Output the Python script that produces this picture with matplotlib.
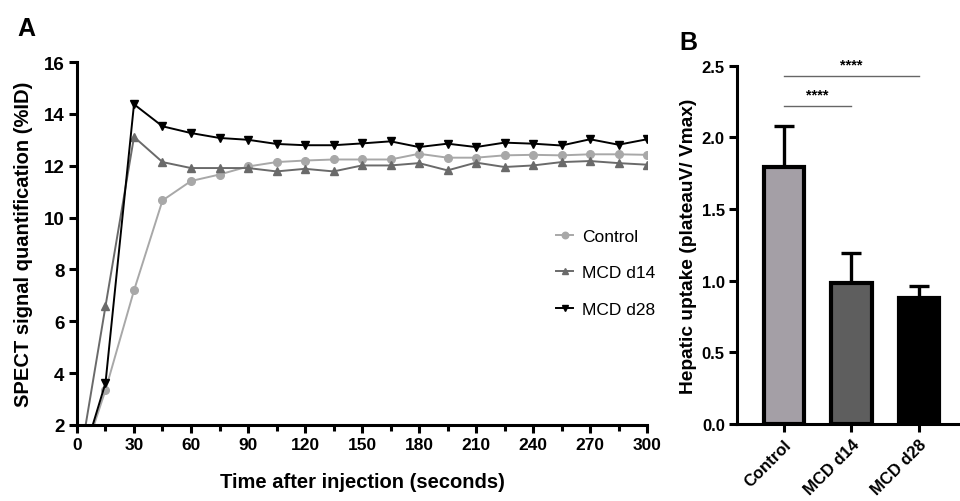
import numpy as np
import matplotlib
matplotlib.use('Agg')
import matplotlib.pyplot as plt
from matplotlib.ticker import MultipleLocator, FormatStrFormatter

plt.rcParams['font.family'] = ['Liberation Sans', 'DejaVu Sans']

# Panel A: SPECT signal over time
time_s = [0, 15, 30, 45, 60, 75, 90, 105, 120, 135, 150, 165, 180, 195, 210,
          225, 240, 255, 270, 285, 300]
control = [0.0, 3.35, 7.19, 10.66, 11.41, 11.66, 11.97, 12.14, 12.20, 12.24, 12.24,
           12.24, 12.46, 12.31, 12.31, 12.40, 12.42, 12.40, 12.44, 12.44, 12.42]
mcd_d14 = [0.0, 6.58, 13.11, 12.14, 11.91, 11.91, 11.91, 11.78, 11.88, 11.78, 12.01,
           12.01, 12.10, 11.82, 12.12, 11.95, 12.01, 12.14, 12.18, 12.10, 12.04]
mcd_d28 = [0.0, 3.62, 14.37, 13.52, 13.26, 13.07, 13.00, 12.84, 12.79, 12.79, 12.86,
           12.94, 12.72, 12.85, 12.72, 12.89, 12.85, 12.78, 13.02, 12.81, 13.02]

# Panel B: hepatic uptake
groups = ['Control', 'MCD d14', 'MCD d28']
uptake = [1.79, 0.985, 0.88]
uptake_sd = [0.29, 0.205, 0.08]
bar_colors = ['#a49fa6', '#5e5e5e', '#000000']

fig = plt.figure(figsize=(9.6, 5.02), dpi=100)

# ---- Panel A ----
ax = fig.add_axes([0.0802, 0.1514, 0.5938, 0.7231])
ax.plot(time_s, control, color='#a8a8a8', marker='o', markersize=5.5, lw=1.4, label='Control')
ax.plot(time_s, mcd_d14, color='#6a6a6a', marker='^', markersize=5.5, lw=1.4, label='MCD d14')
ax.plot(time_s, mcd_d28, color='#000000', marker='v', markersize=5.5, lw=1.4, label='MCD d28')
ax.set_xlim(0, 300)
ax.set_ylim(2, 16)
ax.xaxis.set_major_locator(MultipleLocator(30))
ax.xaxis.set_minor_locator(MultipleLocator(15))
ax.yaxis.set_major_locator(MultipleLocator(2))
for s in ['top', 'right']:
    ax.spines[s].set_visible(False)
for s in ['left', 'bottom']:
    ax.spines[s].set_linewidth(2.2)
ax.tick_params(which='major', width=2.2, length=6, pad=3)
ax.tick_params(axis='x', labelsize=12.5)
ax.tick_params(axis='y', labelsize=13.5)
ax.tick_params(which='minor', width=2.2, length=4)
for lbl in ax.get_xticklabels() + ax.get_yticklabels():
    lbl.set_fontweight('bold')
ax.set_xlabel('Time after injection (seconds)', fontsize=14.5, fontweight='bold', labelpad=14)
ax.set_ylabel('SPECT signal quantification (%ID)', fontsize=14.5, fontweight='bold', labelpad=8)
ax.legend(loc='center left', bbox_to_anchor=(0.813, 0.419), frameon=False, fontsize=12.5,
          handlelength=1.0, handletextpad=0.5, labelspacing=1.25, markerscale=0.85)
fig.text(0.018, 0.928, 'A', fontsize=18, fontweight='bold')

# ---- Panel B ----
bx = fig.add_axes([0.768, 0.1534, 0.232, 0.7137])
pos = np.arange(len(groups))
bx.bar(pos, uptake, width=0.6, color=bar_colors, edgecolor='black', linewidth=3.0, zorder=2)
bx.errorbar(pos, uptake, yerr=[np.zeros(len(groups)), uptake_sd], fmt='none',
            ecolor='black', elinewidth=2.4, capsize=7, capthick=2.4, zorder=1)
bx.set_xlim(-0.69, 2.61)
bx.set_ylim(0, 2.5)
bx.yaxis.set_major_locator(MultipleLocator(0.5))
bx.yaxis.set_major_formatter(FormatStrFormatter('%.1f'))
bx.set_xticks(pos)
bx.set_xticklabels(groups, rotation=45, ha='right', rotation_mode='anchor')
for s in ['top', 'right']:
    bx.spines[s].set_visible(False)
for s in ['left', 'bottom']:
    bx.spines[s].set_linewidth(2.2)
bx.tick_params(width=2.2, length=6, labelsize=12, pad=3)
for lbl in bx.get_xticklabels() + bx.get_yticklabels():
    lbl.set_fontweight('bold')
bx.set_ylabel('Hepatic uptake (plateauV/ Vmax)', fontsize=13.8, fontweight='bold', labelpad=3)

# significance brackets
bx.plot([0, 2], [2.43, 2.43], color='#666666', lw=1.0, clip_on=False)
bx.text(1, 2.46, '****', ha='center', va='bottom', fontsize=10.5, fontweight='bold')
bx.plot([0, 1], [2.22, 2.22], color='#666666', lw=1.0, clip_on=False)
bx.text(0.5, 2.25, '****', ha='center', va='bottom', fontsize=10.5, fontweight='bold')
fig.text(0.708, 0.9, 'B', fontsize=18, fontweight='bold')

fig.savefig('out.png', dpi=100)
